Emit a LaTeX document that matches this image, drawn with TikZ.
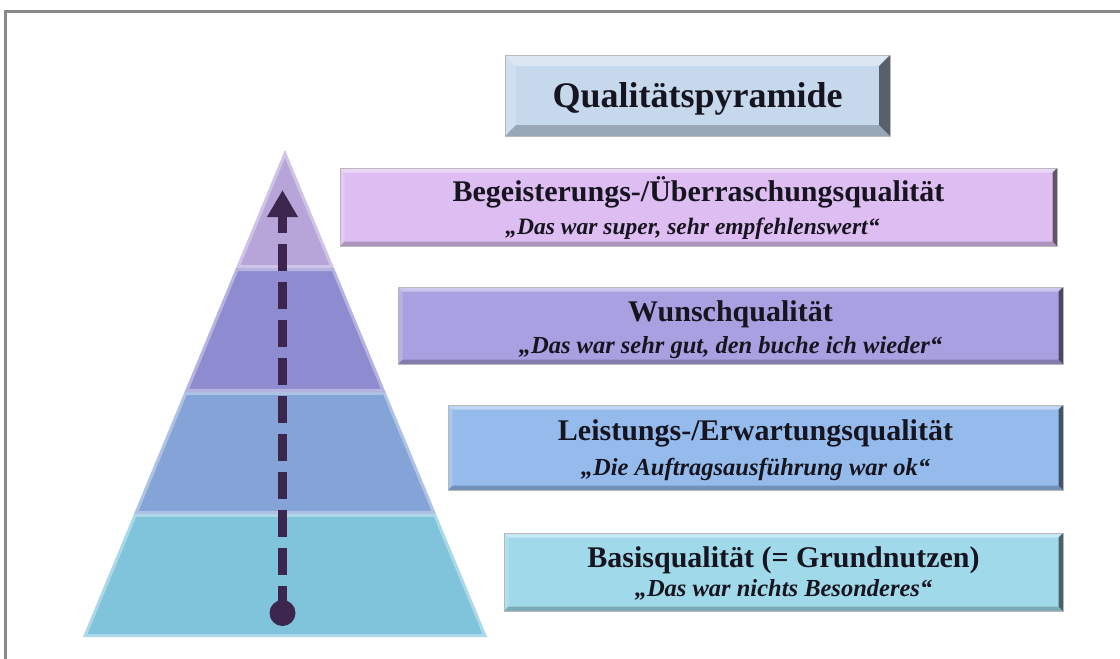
\documentclass[tikz,border=0pt]{standalone}
\usepackage{fontspec}
\setmainfont{Liberation Serif}
\usetikzlibrary{calc,arrows.meta}
\definecolor{frameg}{RGB}{138,138,138}
\definecolor{titlef}{RGB}{197,216,236}
\definecolor{b1f}{RGB}{222,190,242}
\definecolor{b2f}{RGB}{168,160,224}
\definecolor{b3f}{RGB}{148,187,236}
\definecolor{b4f}{RGB}{160,218,234}
\definecolor{p1}{RGB}{183,165,218}
\definecolor{p2}{RGB}{143,139,208}
\definecolor{p3}{RGB}{132,163,214}
\definecolor{p4}{RGB}{128,196,220}
\definecolor{arrowc}{RGB}{60,38,78}
\definecolor{txt}{RGB}{22,20,30}
\newcommand\bevelpp[1]{%
  \fill[white,opacity=.40] (path picture bounding box.north west) -- (path picture bounding box.north east)
     -- ([shift={(-#1,-#1)}]path picture bounding box.north east) -- ([shift={(#1,-#1)}]path picture bounding box.north west) -- cycle;
  \fill[white,opacity=.18] (path picture bounding box.north west) -- (path picture bounding box.south west)
     -- ([shift={(#1,#1)}]path picture bounding box.south west) -- ([shift={(#1,-#1)}]path picture bounding box.north west) -- cycle;
  \fill[black,opacity=.55] (path picture bounding box.north east) -- (path picture bounding box.south east)
     -- ([shift={(-#1,#1)}]path picture bounding box.south east) -- ([shift={(-#1,-#1)}]path picture bounding box.north east) -- cycle;
  \fill[black,opacity=.22] (path picture bounding box.south west) -- (path picture bounding box.south east)
     -- ([shift={(-#1,#1)}]path picture bounding box.south east) -- ([shift={(#1,#1)}]path picture bounding box.south west) -- cycle;
}
\newcommand\pyrlayer[2]{%
  \fill[#1] #2;
  \begin{scope}
    \clip #2;
    \draw[white,opacity=.35,line width=6pt,line join=miter] #2;
  \end{scope}
}
\begin{document}
\begin{tikzpicture}[x=1pt,y=-1pt,
  qbox/.style={rectangle,draw=black!28,line width=.8pt,inner sep=0pt,outer sep=0pt,
               path picture={\bevelpp{#1}}},
  qbox/.default=4.5pt,
  head/.style={anchor=base,inner sep=0pt,text=txt,font=\bfseries\fontsize{30}{32}\selectfont},
  sub/.style={anchor=base,inner sep=0pt,text=txt,font=\bfseries\itshape\fontsize{#1}{26}\selectfont},
  sub/.default=24.5,
  ttl/.style={anchor=base,inner sep=0pt,text=txt,font=\bfseries\fontsize{36}{38}\selectfont}]
\useasboundingbox (0,0) rectangle (1120,659);
\fill[white] (0,0) rectangle (1120,659);
% frame
\draw[frameg,line width=3pt] (5.5,659) -- (5.5,11.5) -- (1120,11.5);

% pyramid
\coordinate (apex) at (285,150);
\coordinate (bl) at (83,637);
\coordinate (br) at (487,637);
\coordinate (l1) at ($(apex)!0.2423!(bl)$);
\coordinate (r1) at ($(apex)!0.2423!(br)$);
\coordinate (l2) at ($(apex)!0.4969!(bl)$);
\coordinate (r2) at ($(apex)!0.4969!(br)$);
\coordinate (l3) at ($(apex)!0.7474!(bl)$);
\coordinate (r3) at ($(apex)!0.7474!(br)$);
\pyrlayer{p1}{(apex) -- (r1) -- (l1) -- cycle}
\pyrlayer{p2}{(l1) -- (r1) -- (r2) -- (l2) -- cycle}
\pyrlayer{p3}{(l2) -- (r2) -- (r3) -- (l3) -- cycle}
\pyrlayer{p4}{(l3) -- (r3) -- (br) -- (bl) -- cycle}

% arrow
\node[circle,fill=arrowc,minimum size=26pt,inner sep=0pt] (dot) at (282.5,613) {};
\coordinate (tip) at (282.5,190);
\draw[arrowc,line width=9pt,dash pattern=on 27pt off 11pt,
      -{Triangle[length=27pt 0 0,width=29pt 0 0]}] (dot.center) -- (tip);

% title
\node[qbox=11pt,fill=titlef,minimum width=385pt,minimum height=81pt] (title) at (697.5,95.5) {};
\node[ttl] (titletxt) at ([yshift=-11.5pt]title.center) {Qualitätspyramide};

% boxes
\node[qbox,fill=b1f,minimum width=717pt,minimum height=78pt] (b1) at (698.5,207) {};
\node[head] (b1h) at ([yshift=6pt]b1.center) {Begeisterungs-/Überraschungsqualität};
\node[sub=23.5] (b1s) at ([xshift=-6pt,yshift=-27pt]b1.center) {„Das war super, sehr empfehlenswert“};

\node[qbox,fill=b2f,minimum width=665pt,minimum height=77pt] (b2) at (730.5,325.5) {};
\node[head] (b2h) at ([yshift=4pt]b2.center) {Wunschqualität};
\node[sub] (b2s) at ([yshift=-28pt]b2.center) {„Das war sehr gut, den buche ich wieder“};

\node[qbox,fill=b3f,minimum width=615pt,minimum height=85pt] (b3) at (755.5,447.5) {};
\node[head] (b3h) at ([yshift=7.5pt]b3.center) {Leistungs-/Erwartungsqualität};
\node[sub] (b3s) at ([yshift=-28pt]b3.center) {„Die Auftragsausführung war ok“};

\node[qbox,fill=b4f,minimum width=559pt,minimum height=78pt] (b4) at (783.5,572) {};
\node[head] (b4h) at ([yshift=5pt]b4.center) {Basisqualität (= Grundnutzen)};
\node[sub] (b4s) at ([yshift=-24pt]b4.center) {„Das war nichts Besonderes“};
\end{tikzpicture}
\end{document}
